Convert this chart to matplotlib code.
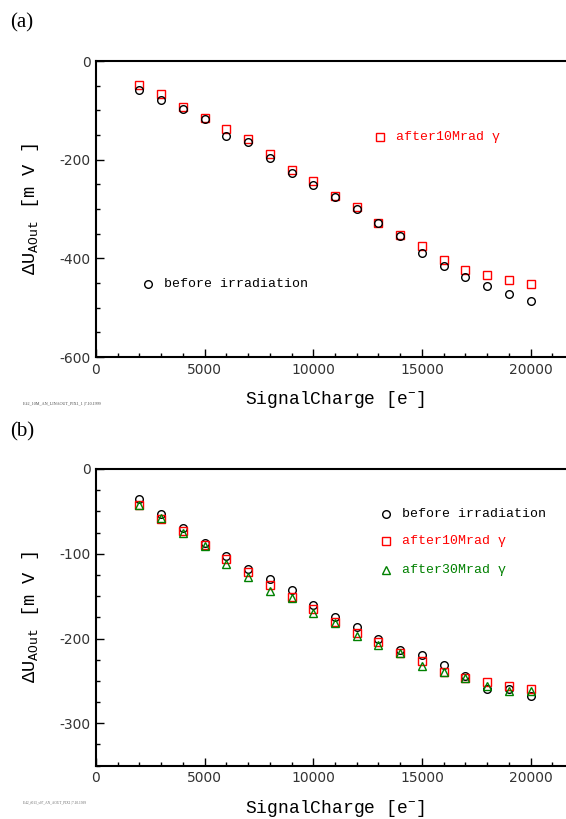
import numpy as np
import matplotlib
matplotlib.use("Agg")
import matplotlib.pyplot as plt
from matplotlib.ticker import MultipleLocator

# signal charge [e-]
charge = [2000, 3000, 4000, 5000, 6000, 7000, 8000, 9000, 10000, 11000,
          12000, 13000, 14000, 15000, 16000, 17000, 18000, 19000, 20000]

# panel (a)
a_before = [-58, -80, -97, -118, -153, -164, -197, -226, -251, -276,
            -300, -329, -354, -390, -415, -438, -457, -473, -486]
a_10M = [-49, -66, -94, -115, -137, -158, -188, -220, -243, -274,
         -295, -328, -353, -374, -403, -423, -434, -444, -453]

# panel (b)
b_before = [-36, -53, -70, -87, -103, -118, -130, -143, -161, -175,
            -187, -200, -214, -220, -231, -244, -259, -260, -268]
b_10M = [-42, -59, -73, -90, -106, -121, -137, -151, -165, -180,
         -193, -204, -217, -227, -240, -246, -251, -256, -259]
b_30M = [-43, -58, -76, -91, -112, -127, -144, -152, -170, -182,
         -197, -208, -217, -232, -239, -246, -256, -262, -262]

lab_font = "Liberation Mono"
tick_col = "#333333"

plt.rcParams["axes.unicode_minus"] = False
plt.rcParams["mathtext.fontset"] = "custom"
plt.rcParams["mathtext.rm"] = lab_font

fig = plt.figure(figsize=(5.66, 8.19), dpi=100)


def style(ax, ylim, ymaj, ymin):
    ax.set_xlim(0, 22000)
    ax.set_ylim(*ylim)
    ax.xaxis.set_major_locator(MultipleLocator(5000))
    ax.xaxis.set_minor_locator(MultipleLocator(1000))
    ax.yaxis.set_major_locator(MultipleLocator(ymaj))
    ax.yaxis.set_minor_locator(MultipleLocator(ymin))
    ax.tick_params(which="both", direction="in", top=False, right=False,
                   width=1.0, labelsize=10, labelcolor=tick_col, colors="black")
    ax.tick_params(which="major", length=6, pad=4)
    ax.tick_params(which="minor", length=3)
    for s in ax.spines.values():
        s.set_linewidth(1.5)
    ax.set_xlabel("SignalCharge [e$^{-}$]", fontfamily=lab_font, fontsize=13,
                  labelpad=9)
    ax.set_ylabel("ΔU$_{\\mathrm{AOut}}$ [m V ]", fontfamily=lab_font,
                  fontsize=13.5, labelpad=8)
    ax.yaxis.set_label_coords(-0.115, 0.5)


mk = dict(ls="none", markersize=5.5, markeredgewidth=1.0, mfc="none")

# ---- (a)
ax1 = fig.add_axes([0.1696, 0.5641, 0.8445, 0.3614])
ax1.plot(charge, a_10M, marker="s", mec="red", **mk)
ax1.plot(charge, a_before, marker="o", mec="black", **mk)
style(ax1, (-600, 0), 200, 50)
ax1.plot([2400], [-453], marker="o", mec="black", **mk)
ax1.text(3130, -453, "before irradiation", fontfamily=lab_font, fontsize=9.5,
         va="center", color="black")
ax1.plot([13060], [-155], marker="s", mec="red", **mk)
ax1.text(13800, -155, "after10Mrad γ", fontfamily=lab_font, fontsize=9.5,
         va="center", color="red")

# ---- (b)
ax2 = fig.add_axes([0.1696, 0.0651, 0.8445, 0.3623])
ax2.plot(charge, b_before, marker="o", mec="black", **mk)
ax2.plot(charge, b_10M, marker="s", mec="red", **mk)
ax2.plot(charge, b_30M, marker="^", mec="green", **mk)
style(ax2, (-350, 0), 100, 25)
leg = [("before irradiation", "o", "black", -53),
       ("after10Mrad γ", "s", "red", -85),
       ("after30Mrad γ", "^", "green", -119)]
for txt, m, c, yv in leg:
    ax2.plot([13370], [yv], marker=m, mec=c, **mk)
    ax2.text(14100, yv, txt, fontfamily=lab_font, fontsize=9.5,
             va="center", color=c)

# panel tags and run stamps
fig.text(0.018, 0.972, "(a)", fontfamily="Liberation Serif", fontsize=15,
         va="center")
fig.text(0.018, 0.473, "(b)", fontfamily="Liberation Serif", fontsize=15,
         va="center")
fig.text(0.04, 0.507, "E42_10M_AN_LINAOUT_PIX1_1 |7.10.1999",
         fontfamily="Liberation Serif", fontsize=3, color="#444444",
         va="center")
fig.text(0.04, 0.0195, "E42_f013_s07_AN_AOUT_PIX1 |7.10.1999",
         fontfamily="Liberation Serif", fontsize=2.5, color="#666666",
         va="center")

fig.savefig("out.png", dpi=100)
